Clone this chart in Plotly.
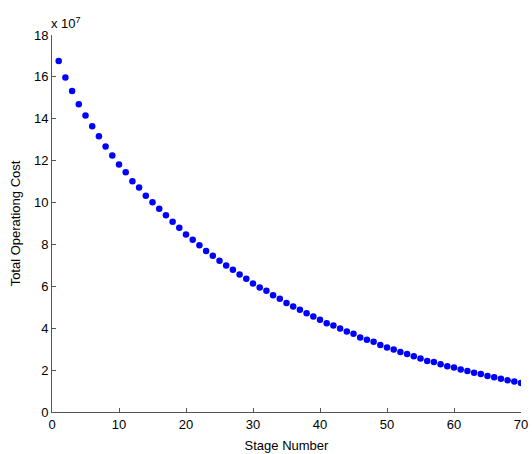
import plotly.graph_objects as go

stages = list(range(1, 71))
cost_e7 = [16.76, 15.97, 15.33, 14.69, 14.16, 13.64, 13.16, 12.68, 12.25, 11.82,
           11.45, 11.02, 10.72, 10.33, 10.01, 9.70, 9.39, 9.08, 8.80, 8.48,
           8.22, 7.96, 7.69, 7.46, 7.22, 7.00, 6.79, 6.57, 6.36, 6.14,
           5.95, 5.79, 5.58, 5.41, 5.20, 5.04, 4.88, 4.72, 4.56, 4.40,
           4.24, 4.13, 3.99, 3.84, 3.74, 3.56, 3.45, 3.35, 3.20, 3.08,
           2.98, 2.87, 2.77, 2.66, 2.55, 2.44, 2.39, 2.28, 2.18, 2.12,
           2.03, 1.96, 1.87, 1.82, 1.72, 1.66, 1.59, 1.51, 1.46, 1.39]
x_ticks = [0, 10, 20, 30, 40, 50, 60, 70]
y_ticks = [0, 2, 4, 6, 8, 10, 12, 14, 16, 18]

font = dict(family="Liberation Sans, Arial, sans-serif", size=13, color="#000000")

fig = go.Figure()
fig.add_trace(go.Scatter(
    x=stages, y=cost_e7, mode="markers",
    marker=dict(color="#0000FF", size=6.5, line=dict(width=0)),
    showlegend=False, hoverinfo="skip"))

axis_common = dict(
    showgrid=False, zeroline=False, showline=True, linecolor="#555555", linewidth=1,
    ticks="inside", ticklen=4, tickcolor="#555555", tickwidth=1,
    tickfont=font, mirror=False, automargin=False)

fig.update_layout(
    width=532, height=454,
    margin=dict(l=52, r=11, t=35, b=42),
    paper_bgcolor="white", plot_bgcolor="white",
    font=font,
    xaxis=dict(range=[0, 70], tickvals=x_ticks, ticktext=[str(v) for v in x_ticks],
               title=dict(text="Stage Number", font=font, standoff=10), **axis_common),
    yaxis=dict(range=[0, 18], tickvals=y_ticks, ticktext=[str(v) for v in y_ticks],
               title=dict(text="Total Operationg Cost", font=font, standoff=10), **axis_common),
    annotations=[dict(text="x 10<sup>7</sup>", xref="paper", yref="paper",
                      x=0, y=1, xanchor="left", yanchor="bottom", yshift=2, xshift=-3,
                      showarrow=False, font=font)],
)

fig.write_html("out.html", config={"displayModeBar": False},
               post_script="document.body.style.margin='0';document.body.style.overflow='hidden';")
